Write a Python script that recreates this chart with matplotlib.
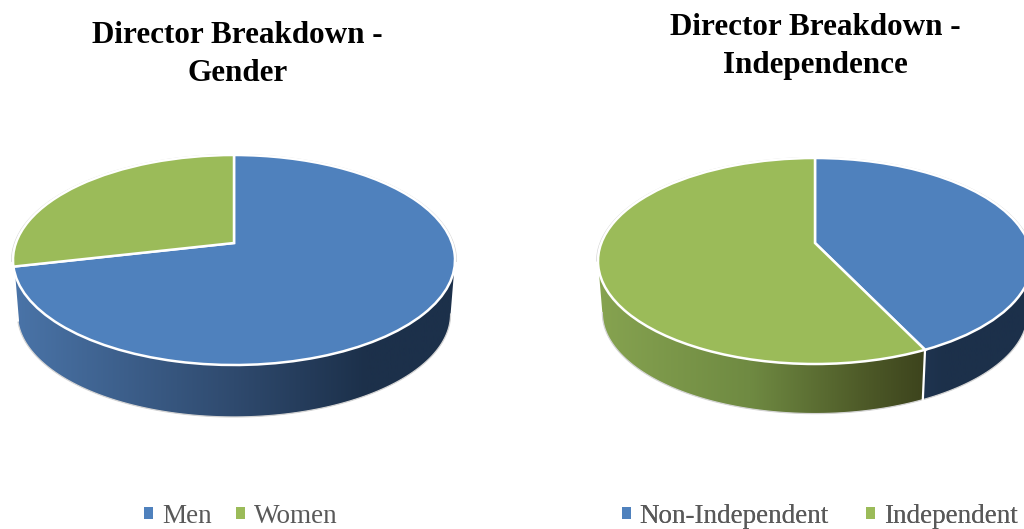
import numpy as np
import matplotlib
matplotlib.use('Agg')
import matplotlib.pyplot as plt
from matplotlib.colors import LinearSegmentedColormap
from matplotlib.patches import Patch, Polygon
from matplotlib.transforms import Transform

plt.rcParams['font.family'] = ['Liberation Serif', 'DejaVu Serif']

# chart data
gender_labels = ['Men', 'Women']
gender_values = [5, 2]
indep_labels = ['Non-Independent', 'Independent']
indep_values = [3, 4]

blue = '#4f81bd'
green = '#9bbb59'
text_grey = '#404040'
legend_grey = '#595959'

blue_wall = LinearSegmentedColormap.from_list('bw', [(0, '#4a74a8'), (0.5, '#2f4a6e'), (0.8, '#1c304a'), (1, '#1c304a')])
green_wall = LinearSegmentedColormap.from_list('gw', [(0, '#86a350'), (0.35, '#6f8a42'), (0.6, '#4f5c29'), (0.75, '#3d441d'), (1, '#3d441d')])


class Tilt(Transform):
    # unit circle to pixels, perspective look of the 3d pie
    input_dims = 2
    output_dims = 2

    def __init__(self, cx, apex_y, bx, ay, k):
        super().__init__()
        self.cx, self.apex_y, self.bx, self.ay, self.k = cx, apex_y, bx, ay, k

    def transform_non_affine(self, values):
        values = np.asarray(values, dtype=float)
        w = 1 + self.k * values[:, 1]
        return np.column_stack([self.cx + self.bx * values[:, 0] / w,
                                self.apex_y - self.ay * values[:, 1] / w])


def unit_arc(t1, t2, n=120):
    t = np.radians(np.linspace(t1, t2, n))
    return np.column_stack([np.cos(t), np.sin(t)])


def draw_pie(ax, values, colors, walls, cx, rx, top, bottom, depth, x_span):
    apex = 243.0
    up, down = apex - top, bottom - apex
    k = (down - up) / (down + up)
    tilt_top = Tilt(cx, apex, rx * np.sqrt(1 - k**2), up * (1 + k), k)
    tilt_low = Tilt(cx, apex + depth, 0.98 * rx * np.sqrt(1 - k**2), 0.98 * up * (1 + k), k)

    wedges, _ = ax.pie(values, colors=colors, startangle=90, counterclock=False, radius=1,
                       wedgeprops={'edgecolor': 'white', 'linewidth': 1.8, 'zorder': 5})
    ax.set_aspect('auto')

    side = np.degrees(np.arcsin(k))
    grad = np.linspace(0, 1, 256).reshape(1, -1)
    for wedge, cmap in zip(wedges, walls):
        wedge.set_transform(tilt_top + ax.transData)
        # only the front part of the side wall is seen
        t1 = max(wedge.theta1, -180 + side)
        t2 = min(wedge.theta2, -side)
        if t2 - t1 < 5:
            continue
        arc = unit_arc(t1, t2)
        outline = np.vstack([tilt_top.transform(arc), tilt_low.transform(arc)[::-1]])
        im = ax.imshow(grad, cmap=cmap, extent=(x_span[0], x_span[1], 529, 0), aspect='auto', zorder=2)
        clip = Polygon(outline, transform=ax.transData, facecolor='none', edgecolor='none')
        ax.add_patch(clip)
        im.set_clip_path(clip)

    # thin grey rim round the whole pie, white seam on the wall
    rim_top = tilt_top.transform(1.006 * unit_arc(-10, 190))
    rim_low = tilt_low.transform(unit_arc(-180 + side, -side))
    ax.plot(rim_top[:, 0], rim_top[:, 1], color='#d4d4d4', lw=0.8, zorder=1)
    ax.plot(rim_low[:, 0], rim_low[:, 1], color='#d4d4d4', lw=0.9, zorder=3)
    for wedge in wedges:
        a = wedge.theta1
        if -170 < a < -10:
            p = unit_arc(a, a, 1)
            seam = np.vstack([tilt_top.transform(p), tilt_low.transform(p)])
            ax.plot(seam[:, 0], seam[:, 1], color='white', lw=1.6, zorder=4)


fig = plt.figure(figsize=(10.24, 5.29), dpi=100)
ax = fig.add_axes([0, 0, 1, 1])

draw_pie(ax, gender_values, [blue, green], [blue_wall, green_wall], 234, 221, 155, 365, 54.4, (13, 455))
draw_pie(ax, indep_values, [blue, green], [blue_wall, green_wall], 815, 217, 158, 364, 52, (598, 1032))

ax.set_xlim(0, 1024)
ax.set_ylim(529, 0)
ax.axis('off')

# titles
ax.text(237.5, 54.5, 'Director Breakdown -\nGender', ha='center', va='center', fontsize=22.4,
        fontweight='bold', color='black', linespacing=1.42)
ax.text(815.5, 46.5, 'Director Breakdown -\nIndependence', ha='center', va='center', fontsize=22.4,
        fontweight='bold', color='black', linespacing=1.42)

# data labels
ax.text(137, 196, str(gender_values[1]), ha='center', va='center', fontsize=19, color=text_grey)
ax.text(373, 313, str(gender_values[0]), ha='center', va='center', fontsize=19, color=text_grey)
ax.text(955, 215, str(indep_values[0]), ha='center', va='center', fontsize=19, color=text_grey)
ax.text(633, 284, str(indep_values[1]), ha='center', va='center', fontsize=19, color=text_grey)


def add_legend(labels, x, y, gap):
    handles = [Patch(facecolor=c, edgecolor='none') for c in (blue, green)]
    leg = ax.legend(handles, labels, ncol=2, loc='center', bbox_to_anchor=(x, y), bbox_transform=ax.transData,
                    frameon=False, fontsize=19.5, labelcolor=legend_grey, handlelength=0.33, handleheight=0.33,
                    handletextpad=0.33, columnspacing=gap, borderpad=0, borderaxespad=0)
    ax.add_artist(leg)


add_legend(gender_labels, 241, 516.5, 0.89)
add_legend(indep_labels, 819.5, 516.5, 1.37)

fig.savefig('out.png', dpi=100)
